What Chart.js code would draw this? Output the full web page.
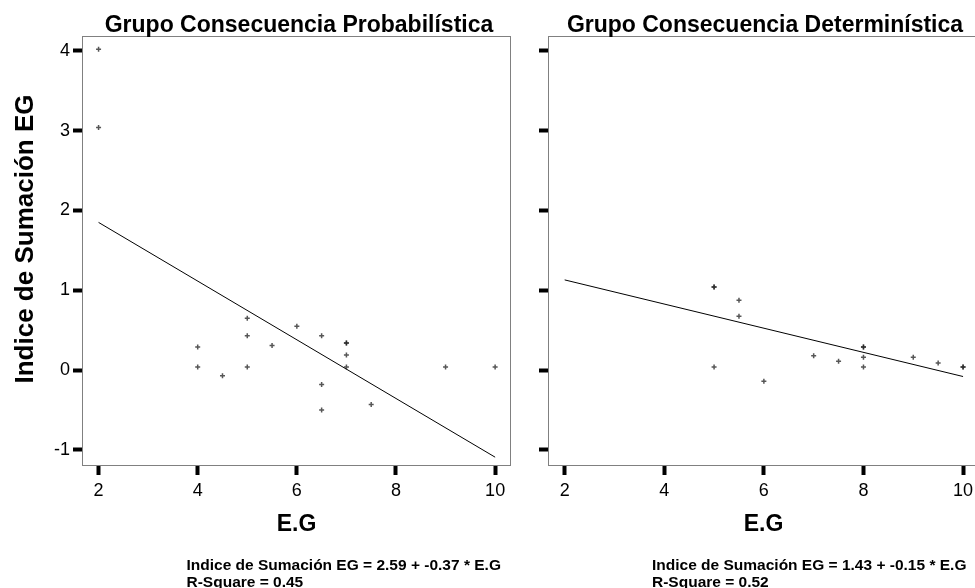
<!DOCTYPE html>
<html>
<head>
<meta charset="utf-8">
<script src="https://cdn.jsdelivr.net/npm/chart.js@4/dist/chart.umd.min.js"></script>
<style>
  html, body { margin: 0; padding: 0; background: #fff; }
  body { width: 975px; height: 588px; overflow: hidden; position: relative; font-family: "Liberation Sans", Arial, sans-serif; }
  canvas { position: absolute; top: 0; }
  .txt { position: absolute; white-space: nowrap; color: #000; font-weight: bold; }
</style>
</head>
<body>
<canvas id="left" width="598" height="588" style="left:0px"></canvas>
<canvas id="right" width="470" height="588" style="left:520px"></canvas>

<div class="txt" style="left:0px;top:9px;width:598px;height:30px;line-height:30px;font-size:23px;text-align:center;">Grupo Consecuencia Probabilística</div>
<div class="txt" style="left:515px;top:9px;width:500px;height:30px;line-height:30px;font-size:23px;text-align:center;">Grupo Consecuencia Determinística</div>
<div class="txt" style="left:-176px;top:224px;width:400px;height:30px;line-height:30px;font-size:26px;text-align:center;transform:rotate(-90deg);transform-origin:50% 50%;">Indice de Sumación EG</div>
<div class="txt" style="left:186.5px;top:555.5px;line-height:17px;font-size:15.5px;">Indice de Sumación EG = 2.59 + -0.37 * E.G<br>R-Square = 0.45</div>
<div class="txt" style="left:652px;top:555.5px;line-height:17px;font-size:15.5px;">Indice de Sumación EG = 1.43 + -0.15 * E.G<br>R-Square = 0.52</div>

<script>
// ---- data ----
const xTicks = [2, 4, 6, 8, 10];
const yTicks = [-1, 0, 1, 2, 3, 4];

// Grupo Consecuencia Probabilística (duplicates drawn twice, as in the source)
const probX = [2, 2, 4, 4, 4.5, 5, 5, 5, 5.5, 6, 6.5, 6.5, 6.5, 7, 7, 7, 7, 7.5, 9, 10];
const probY = [4.02, 3.04, 0.29, 0.04, -0.07, 0.65, 0.43, 0.04, 0.31, 0.55, 0.43, -0.18, -0.50, 0.34, 0.34, 0.19, 0.04, -0.43, 0.04, 0.04];
const probFitX = [2, 10];
const probFitY = [1.85, -1.09];

// Grupo Consecuencia Determinística
const detX = [5, 5, 5, 5.5, 5.5, 6, 7, 7.5, 8, 8, 8, 8, 9, 9.5, 10, 10];
const detY = [1.04, 1.04, 0.04, 0.875, 0.675, -0.14, 0.18, 0.11, 0.29, 0.29, 0.16, 0.04, 0.16, 0.09, 0.04, 0.04];
const detFitX = [2, 10];
const detFitY = [1.13, -0.08];

const xTitle = 'E.G';

// ---- helpers ----
const FONT = '"Liberation Sans", Arial, sans-serif';
const toPts = (xs, ys) => xs.map((x, i) => ({ x: x, y: ys[i] }));

const framePlugin = {
  id: 'frame',
  beforeDatasetsDraw(chart) {
    const a = chart.chartArea;
    const ctx = chart.ctx;
    ctx.save();
    ctx.strokeStyle = '#808080';
    ctx.lineWidth = 1;
    ctx.strokeRect(Math.round(a.left) - 0.5, Math.round(a.top) - 0.5, Math.round(a.right - a.left) + 1, Math.round(a.bottom - a.top) + 1);
    ctx.restore();
  }
};

function makeChart(id, pts, fit, opts) {
  return new Chart(document.getElementById(id), {
    data: {
      datasets: [
        {
          type: 'scatter',
          data: pts,
          pointStyle: 'cross',
          pointRadius: 2.5,
          pointBorderWidth: 1.5,
          borderColor: 'rgba(30,30,30,0.75)',
          backgroundColor: 'rgba(30,30,30,0.75)',
          order: 1
        },
        {
          type: 'line',
          data: fit,
          borderColor: '#000',
          borderWidth: 1,
          pointRadius: 0,
          fill: false,
          tension: 0,
          order: 2
        }
      ]
    },
    options: {
      responsive: false,
      animation: false,
      devicePixelRatio: 1,
      layout: { padding: { top: 37, right: opts.padRight, left: 0, bottom: 0 } },
      plugins: { legend: { display: false }, title: { display: false }, tooltip: { enabled: false } },
      scales: {
        x: {
          type: 'linear',
          position: 'bottom',
          min: opts.xMin, max: opts.xMax,
          afterBuildTicks: s => { s.ticks = xTicks.map(v => ({ value: v })); },
          afterFit: s => { s.height = 123; },
          border: { display: false },
          grid: { display: true, drawOnChartArea: false, drawTicks: true, tickLength: 10, tickWidth: 4, tickColor: '#000' },
          ticks: { padding: 5, color: '#000', font: { family: FONT, size: 18 }, maxRotation: 0 },
          title: { display: true, text: xTitle, color: '#000', font: { family: FONT, size: 23, weight: 'bold' }, padding: { top: 0, bottom: 50 } }
        },
        y: {
          type: 'linear',
          position: 'left',
          min: -1.188, max: 4.172,
          afterBuildTicks: s => { s.ticks = yTicks.map(v => ({ value: v })); },
          afterFit: s => { s.width = opts.yWidth; },
          border: { display: false },
          grid: { display: true, drawOnChartArea: false, drawTicks: true, tickLength: 10, tickWidth: 4, tickColor: '#000' },
          ticks: { display: opts.yLabels, padding: 3, color: '#000', font: { family: FONT, size: 18 } }
        }
      }
    },
    plugins: [framePlugin]
  });
}

makeChart('left', toPts(probX, probY), toPts(probFitX, probFitY),
  { padRight: 88, yWidth: 83, xMin: 1.686, xMax: 10.30, yLabels: true });
makeChart('right', toPts(detX, detY), toPts(detFitX, detFitY),
  { padRight: 12, yWidth: 29, xMin: 1.685, xMax: 10.30, yLabels: false });
</script>
</body>
</html>
